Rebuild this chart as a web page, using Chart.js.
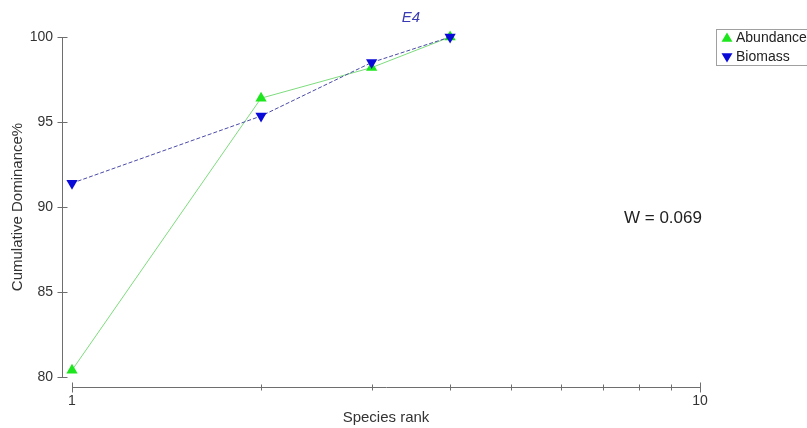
<!DOCTYPE html>
<html>
<head>
<meta charset="utf-8">
<script src="https://cdn.jsdelivr.net/npm/chart.js@4.4.1/dist/chart.umd.min.js"></script>
<style>
  html, body { margin: 0; padding: 0; background: #ffffff; }
  #wrap { width: 807px; height: 428px; }
</style>
</head>
<body>
<div id="wrap"><canvas id="c" width="807" height="428"></canvas></div>
<script>
// Cumulative dominance (k-dominance) curves, station E4
const speciesRank = [1, 2, 3, 4];
const abundance = [80.4, 96.4, 98.2, 100];
const biomass = [91.4, 95.35, 98.5, 100];
const yTickValues = [80, 85, 90, 95, 100];
const xTickValues = [1, 2, 3, 4, 5, 6, 7, 8, 9, 10];
const xTickLabels = { 1: '1', 10: '10' };
const panelTitle = 'E4';
const statText = 'W = 0.069';
const seriesNames = ['Abundance', 'Biomass'];

const FONT = '"Liberation Sans", Arial, sans-serif';
const AXIS_COLOR = '#6e6e6e';
const TEXT_COLOR = '#333333';
const GREEN_LINE = '#7ddc7d';
const GREEN_MARK = '#1ee61e';
const BLUE_LINE = '#4a4aa8';
const BLUE_MARK = '#0a0ad8';

function points(values) {
  return speciesRank.map((r, i) => ({ x: r, y: values[i] }));
}

// Axes are drawn detached from the plot area, with ticks crossing the axis line
const detachedAxes = {
  id: 'detachedAxes',
  beforeDatasetsDraw(chart) {
    const { ctx, scales: { x, y } } = chart;
    const axX = Math.round(chart.chartArea.left) - 10 + 0.5;
    const axY = Math.round(chart.chartArea.bottom) + 10 + 0.5;
    ctx.save();
    ctx.strokeStyle = AXIS_COLOR;
    ctx.lineWidth = 1;
    ctx.beginPath();
    // y axis
    ctx.moveTo(axX, Math.round(y.getPixelForValue(yTickValues[yTickValues.length - 1])) + 0.5);
    ctx.lineTo(axX, Math.round(y.getPixelForValue(yTickValues[0])) + 0.5);
    yTickValues.forEach(v => {
      const py = Math.round(y.getPixelForValue(v)) + 0.5;
      ctx.moveTo(axX - 5, py);
      ctx.lineTo(axX + 5, py);
    });
    // x axis
    ctx.moveTo(Math.round(x.getPixelForValue(1)) + 0.5, axY);
    ctx.lineTo(Math.round(x.getPixelForValue(10)) + 0.5, axY);
    xTickValues.forEach(v => {
      const px = Math.round(x.getPixelForValue(v)) + 0.5;
      const len = xTickLabels[v] ? 5 : 3;
      ctx.moveTo(px, axY - len);
      ctx.lineTo(px, axY + len);
    });
    ctx.stroke();
    ctx.restore();
  },
  afterDraw(chart) {
    const { ctx } = chart;
    ctx.save();
    // panel title
    ctx.fillStyle = '#3a3ab4';
    ctx.font = 'italic 15px ' + FONT;
    ctx.textAlign = 'center';
    ctx.textBaseline = 'middle';
    ctx.fillText(panelTitle, 411, 18);
    // statistic
    ctx.fillStyle = '#222222';
    ctx.font = '17px ' + FONT;
    ctx.textAlign = 'left';
    ctx.fillText(statText, 624, 218);
    // legend box
    ctx.strokeStyle = '#a0a0a0';
    ctx.lineWidth = 1;
    ctx.strokeRect(716.5, 29.5, 100, 36);
    const marks = [
      { color: GREEN_MARK, up: true, y: 38 },
      { color: BLUE_MARK, up: false, y: 57 }
    ];
    marks.forEach((m, i) => {
      const cx = 727, r = 5.5;
      ctx.fillStyle = m.color;
      ctx.beginPath();
      if (m.up) {
        ctx.moveTo(cx, m.y - r);
        ctx.lineTo(cx + r, m.y + r * 0.7);
        ctx.lineTo(cx - r, m.y + r * 0.7);
      } else {
        ctx.moveTo(cx, m.y + r);
        ctx.lineTo(cx + r, m.y - r * 0.7);
        ctx.lineTo(cx - r, m.y - r * 0.7);
      }
      ctx.closePath();
      ctx.fill();
      ctx.fillStyle = '#222222';
      ctx.font = '14px ' + FONT;
      ctx.textAlign = 'left';
      ctx.textBaseline = 'middle';
      ctx.fillText(seriesNames[i], 736, m.y);
    });
    ctx.restore();
  }
};

new Chart(document.getElementById('c'), {
  type: 'line',
  data: {
    datasets: [
      {
        label: seriesNames[1],
        data: points(biomass),
        order: 0,
        borderColor: BLUE_LINE,
        borderWidth: 1,
        borderDash: [4, 2],
        pointStyle: 'triangle',
        pointRotation: 180,
        pointRadius: 6.5,
        pointBackgroundColor: BLUE_MARK,
        pointBorderColor: BLUE_MARK,
        pointBorderWidth: 0,
        clip: false
      },
      {
        label: seriesNames[0],
        data: points(abundance),
        order: 1,
        borderColor: GREEN_LINE,
        borderWidth: 1,
        pointStyle: 'triangle',
        pointRadius: 6.5,
        pointBackgroundColor: GREEN_MARK,
        pointBorderColor: GREEN_MARK,
        pointBorderWidth: 0,
        clip: false
      }
    ]
  },
  options: {
    responsive: false,
    animation: false,
    devicePixelRatio: 1,
    layout: { padding: { top: 37, right: 107, left: 0, bottom: 0 } },
    plugins: { legend: { display: false }, tooltip: { enabled: false } },
    scales: {
      x: {
        type: 'logarithmic',
        min: 1,
        max: 10,
        grid: { display: false, drawTicks: false },
        border: { display: false },
        afterBuildTicks: s => { s.ticks = xTickValues.map(v => ({ value: v, major: !!xTickLabels[v] })); },
        afterFit: s => { s.height = 51; },
        ticks: {
          autoSkip: false,
          maxRotation: 0,
          padding: 16,
          color: TEXT_COLOR,
          font: { family: FONT, size: 14 },
          callback: v => xTickLabels[v] || ''
        },
        title: {
          display: true,
          text: 'Species rank',
          color: TEXT_COLOR,
          font: { family: FONT, size: 15 },
          padding: { top: 0, bottom: 1 }
        }
      },
      y: {
        min: 80,
        max: 100,
        grid: { display: false, drawTicks: false },
        border: { display: false },
        afterBuildTicks: s => { s.ticks = yTickValues.map(v => ({ value: v })); },
        afterFit: s => { s.width = 72; },
        ticks: {
          padding: 19,
          color: TEXT_COLOR,
          font: { family: FONT, size: 14 }
        },
        title: {
          display: true,
          text: 'Cumulative Dominance%',
          color: TEXT_COLOR,
          font: { family: FONT, size: 15 },
          padding: { top: 9, bottom: 0 }
        }
      }
    }
  },
  plugins: [detachedAxes]
});
</script>
</body>
</html>
